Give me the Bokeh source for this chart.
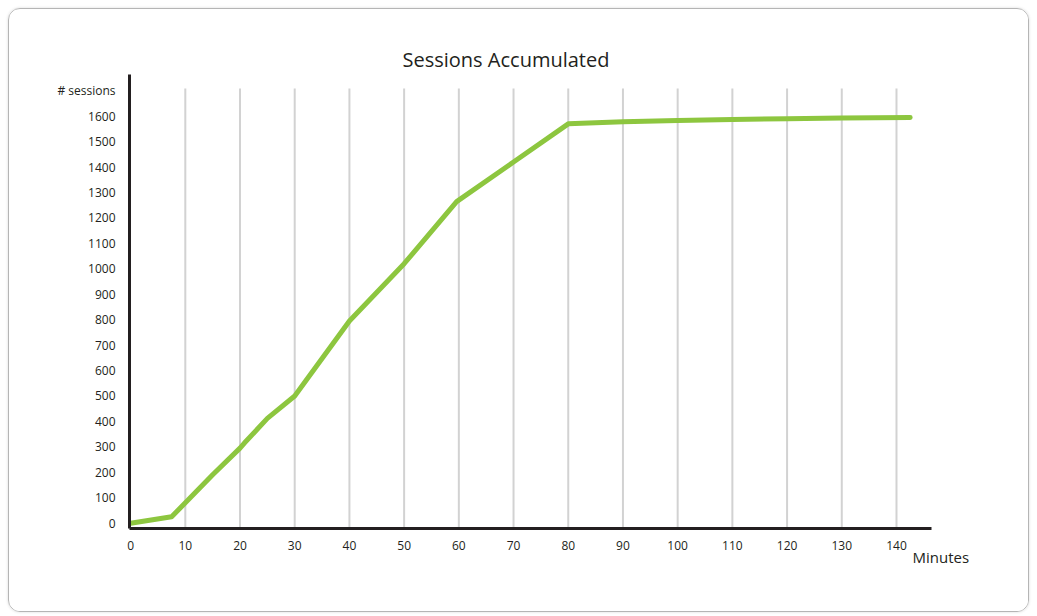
from bokeh.plotting import figure
from bokeh.models import Range1d, FixedTicker, Title, ColumnDataSource
from bokeh.embed import file_html
from bokeh.resources import INLINE

# ---- data ----
minutes = [0, 7.5, 15, 20, 20.8, 25, 30, 40, 50, 59.6, 70, 80, 90, 100, 110, 120, 130, 142.5]
sessions = [0, 25, 190, 295, 315, 412, 500, 795, 1020, 1264, 1420, 1570, 1578, 1583, 1587, 1590, 1593, 1595]
x_ticks = [0, 10, 20, 30, 40, 50, 60, 70, 80, 90, 100, 110, 120, 130, 140]
y_ticks = [0, 100, 200, 300, 400, 500, 600, 700, 800, 900, 1000, 1100, 1200, 1300, 1400, 1500, 1600, 1700]
y_unit_label = "# sessions"
title_text = "Sessions Accumulated"
x_label_text = "Minutes"

FONT = "Open Sans"
TXT = "#231f20"

p = figure(width=1021, height=604, output_backend="svg", toolbar_location=None,
           x_range=Range1d(-0.2, 146.4), y_range=Range1d(-21, 1764),
           min_border_left=120, min_border_right=99, min_border_bottom=85, min_border_top=65)
p.title.text = title_text
p.title.text_font = FONT
p.title.text_font_size = "20px"
p.title.text_font_style = "normal"
p.title.text_color = TXT
p.title.align = "left"
p.title.offset = 273
p.title.standoff = 4

p.outline_line_color = None
p.grid.visible = False
p.background_fill_color = "white"
p.border_fill_color = "white"

# vertical grid lines
gx = x_ticks[1:]
gsrc = ColumnDataSource(dict(x0=gx, y0=[-21] * len(gx), x1=gx, y1=[1709] * len(gx)))
p.segment("x0", "y0", "x1", "y1", source=gsrc, line_color="#d2d2d2", line_width=2)

# data line
p.line(minutes, sessions, line_color="#8dc63f", line_width=5, line_cap="round", line_join="round")

for ax in (p.xaxis, p.yaxis):
    ax.axis_line_width = 3
    ax.axis_line_color = TXT
    ax.major_tick_line_color = None
    ax.minor_tick_line_color = None
    ax.major_label_text_font = FONT
    ax.major_label_text_font_size = "12px"
    ax.major_label_text_color = TXT

p.xaxis.ticker = FixedTicker(ticks=x_ticks)
p.yaxis.ticker = FixedTicker(ticks=y_ticks)
p.yaxis.major_label_overrides = {1700: y_unit_label}
p.yaxis.major_label_standoff = 8
p.xaxis.major_label_standoff = 6

xl = Title(text=x_label_text, text_font=FONT, text_font_size="15px", text_font_style="normal",
           text_color=TXT, align="left", offset=783, standoff=-28)
p.add_layout(xl, "below")

p.styles = {"border": "1px solid #b5b5b5", "border-radius": "12px", "overflow": "hidden",
            "box-shadow": "0 0 3px rgba(0,0,0,0.15)", "margin": "8px 0 0 8px"}

open("out.html", "w").write(file_html(p, INLINE))
